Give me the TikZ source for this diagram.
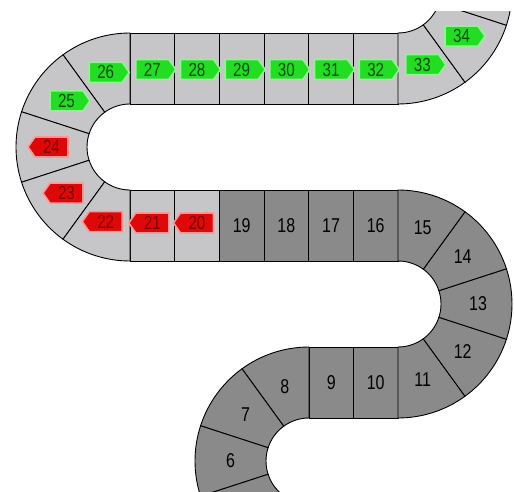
\documentclass[tikz,border=0pt]{standalone}
\usepackage{fontspec}
\setmainfont{Liberation Sans}
\usetikzlibrary{shapes.symbols}
\usepackage{xcolor}

\definecolor{darkcell}{RGB}{138,138,138}
\definecolor{lightcell}{RGB}{198,198,200}
\definecolor{tagred}{RGB}{222,8,8}
\definecolor{redglow}{RGB}{255,150,150}
\definecolor{redtext}{RGB}{125,0,0}
\definecolor{taggreen}{RGB}{34,222,34}
\definecolor{greenglow}{RGB}{150,240,150}
\definecolor{greentext}{RGB}{10,70,10}

\begin{document}
\begin{tikzpicture}[x=1pt,y=1pt,
    cell/.style={draw=black, line width=0.9pt},
    num/.style={font=\fontsize{20}{20}\selectfont, inner sep=0pt},
    gotag/.style={signal, signal to=east, signal pointer angle=110,
        fill=taggreen, draw=greenglow, line width=1.6pt,
        minimum width=40, minimum height=20, inner sep=0pt,
        text=greentext, font=\fontsize{19}{19}\selectfont},
    backtag/.style={signal, signal to=west, signal pointer angle=110,
        fill=tagred, draw=redglow, line width=1.6pt,
        minimum width=40, minimum height=20, inner sep=0pt,
        text=redtext, font=\fontsize{19}{19}\selectfont}]
    \useasboundingbox (0,0) rectangle (514,491);
    \clip (0,0) rectangle (514,479);

    % Straight stretches
    \foreach \i in {0,...,5} {
        \filldraw[cell, fill=lightcell] (130+44.667*\i,387) rectangle +(44.667,71);
    }
    \foreach \i in {0,1} {
        \filldraw[cell, fill=lightcell] (130+44.667*\i,230) rectangle +(44.667,71);
    }
    \foreach \i in {2,...,5} {
        \filldraw[cell, fill=darkcell] (130+44.667*\i,230) rectangle +(44.667,71);
    }
    \foreach \i in {0,1} {
        \filldraw[cell, fill=darkcell] (309+44.5*\i,73) rectangle +(44.5,71);
    }

    % Bends (inner radius 43, outer radius 114)
    \foreach \a in {90,126,...,234} {
        \pgfmathsetmacro{\b}{\a+36}
        \filldraw[cell, fill=lightcell, shift={(130,344)}]
            (\a:114) arc[start angle=\a, end angle=\b, radius=114]
            -- (\b:43) arc[start angle=\b, end angle=\a, radius=43] -- cycle;
    }
    \foreach \a in {-90,-54,...,54} {
        \pgfmathsetmacro{\b}{\a+36}
        \filldraw[cell, fill=darkcell, shift={(398,187)}]
            (\a:114) arc[start angle=\a, end angle=\b, radius=114]
            -- (\b:43) arc[start angle=\b, end angle=\a, radius=43] -- cycle;
    }
    \foreach \a in {90,126,...,198} {
        \pgfmathsetmacro{\b}{\a+36}
        \filldraw[cell, fill=darkcell, shift={(309,30)}]
            (\a:114) arc[start angle=\a, end angle=\b, radius=114]
            -- (\b:43) arc[start angle=\b, end angle=\a, radius=43] -- cycle;
    }
    \foreach \a in {-90,-54,-18} {
        \pgfmathsetmacro{\b}{\a+36}
        \filldraw[cell, fill=lightcell, shift={(398,501)}]
            (\a:114) arc[start angle=\a, end angle=\b, radius=114]
            -- (\b:43) arc[start angle=\b, end angle=\a, radius=43] -- cycle;
    }

    % Plain numbers
    \foreach \n/\x in {19/241.7, 18/286.3, 17/331, 16/375.7} {
        \node[num] (n\n) at (\x,265.5) {\scalebox{0.8}[1]{\n}};
    }
    \foreach \n/\x in {9/331.2, 10/375.7} {
        \node[num] (n\n) at (\x,108.5) {\scalebox{0.8}[1]{\n}};
    }
    \foreach \n/\a in {15/72, 14/36, 13/0, 12/-36, 11/-72} {
        \node[num] (n\n) at ([shift={(398,187)}]\a:80) {\scalebox{0.8}[1]{\n}};
    }
    \foreach \n/\a in {8/108, 7/144, 6/180} {
        \node[num] (n\n) at ([shift={(309,30)}]\a:78.5) {\scalebox{0.8}[1]{\n}};
    }

    % Tags
    \foreach \n/\x in {27/152.3, 28/197, 29/241.7, 30/286.3, 31/331, 32/375.7} {
        \node[gotag] (tag\n) at (\x,421.5) {\scalebox{0.8}[1]{\n}};
    }
    \foreach \n/\a in {26/108, 25/144} {
        \node[gotag] (tag\n) at ([shift={(130,344)}]\a:78.5) {\scalebox{0.8}[1]{\n}};
    }
    \foreach \n/\a in {33/-72, 34/-36} {
        \node[gotag] (tag\n) at ([shift={(398,501)}]\a:78.5) {\scalebox{0.8}[1]{\n}};
    }
    \foreach \n/\a in {24/180, 23/216, 22/252} {
        \node[backtag] (tag\n) at ([shift={(130,344)}]\a:78.5) {\scalebox{0.8}[1]{\n}};
    }
    \foreach \n/\x in {21/152.3, 20/197} {
        \node[backtag] (tag\n) at (\x,268) {\scalebox{0.8}[1]{\n}};
    }
\end{tikzpicture}
\end{document}
